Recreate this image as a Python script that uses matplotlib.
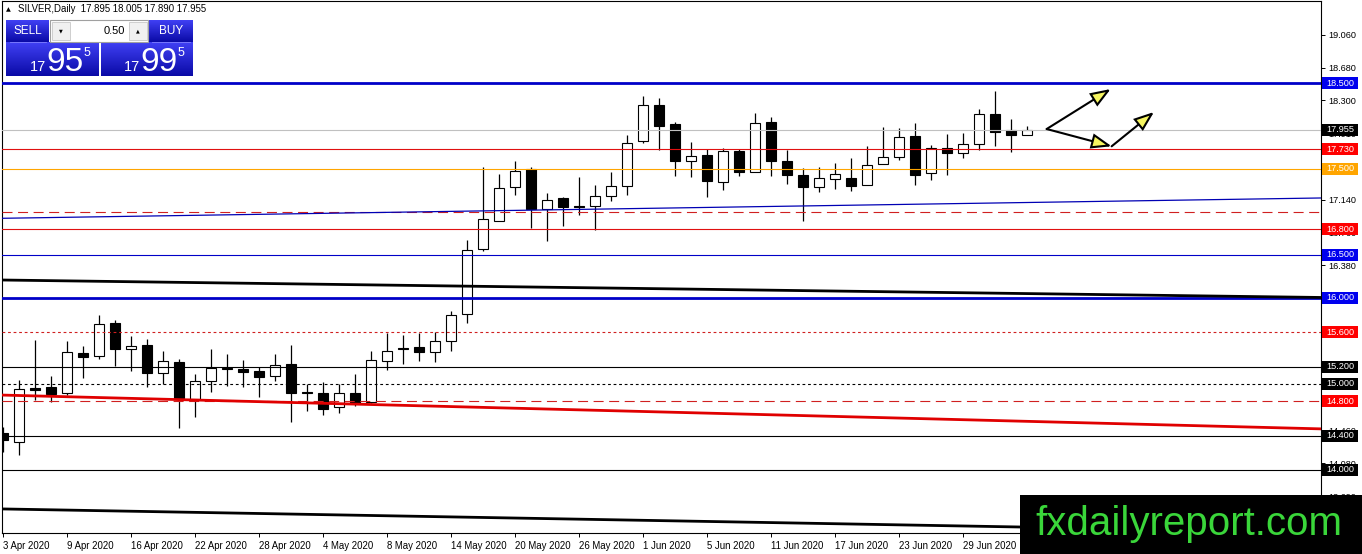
import matplotlib
matplotlib.use('Agg')
import matplotlib.pyplot as plt
import numpy as np
from matplotlib.patches import Rectangle, FancyArrowPatch
from matplotlib.colors import LinearSegmentedColormap
import matplotlib.transforms as mtransforms

plt.rcParams['font.family'] = ['Liberation Sans', 'DejaVu Sans']

# ---------------- data ----------------
symbol = 'SILVER,Daily'
opens = [14.43, 14.33, 14.95, 14.97, 14.90, 15.36, 15.33, 15.71, 15.41, 15.45,
         15.13, 15.26, 14.83, 15.03, 15.19, 15.17, 15.15, 15.09, 15.23, 14.91,
         14.90, 14.73, 14.90, 14.79, 15.27, 15.42, 15.43, 15.37, 15.50, 15.81,
         16.57, 16.90, 17.29, 17.50, 17.03, 17.16, 17.07, 17.07, 17.19, 17.30,
         17.83, 18.24, 18.02, 17.59, 17.66, 17.35, 17.71, 17.47, 18.05, 17.59,
         17.43, 17.29, 17.38, 17.40, 17.31, 17.56, 17.64, 17.88, 17.45, 17.74,
         17.69, 17.79, 18.14, 17.95, 17.895]
highs = [14.50, 15.05, 15.51, 15.09, 15.50, 15.44, 15.80, 15.74, 15.56, 15.52,
         15.38, 15.29, 15.12, 15.41, 15.35, 15.28, 15.20, 15.35, 15.45, 15.00,
         15.02, 15.00, 15.12, 15.38, 15.59, 15.57, 15.59, 15.60, 15.85, 16.67,
         17.52, 17.44, 17.59, 17.52, 17.22, 17.17, 17.41, 17.31, 17.47, 17.90,
         18.35, 18.33, 18.05, 17.81, 17.73, 17.74, 17.73, 18.15, 18.10, 17.72,
         17.51, 17.52, 17.57, 17.63, 17.77, 17.99, 17.98, 18.03, 17.78, 17.91,
         17.92, 18.20, 18.41, 18.08, 18.005]
lows = [14.21, 14.17, 14.81, 14.79, 14.87, 15.07, 15.29, 15.21, 15.15, 14.97,
        15.00, 14.49, 14.62, 14.91, 14.98, 14.97, 14.85, 15.03, 14.56, 14.69,
        14.64, 14.66, 14.74, 14.78, 15.16, 15.23, 15.27, 15.26, 15.38, 15.71,
        16.55, 16.90, 17.20, 16.81, 16.66, 16.84, 16.97, 16.79, 17.13, 17.20,
        17.80, 17.72, 17.42, 17.41, 17.17, 17.26, 17.42, 17.46, 17.42, 17.33,
        16.90, 17.23, 17.27, 17.24, 17.31, 17.56, 17.60, 17.31, 17.37, 17.43,
        17.63, 17.72, 17.77, 17.70, 17.890]
closes = [14.35, 14.94, 14.93, 14.88, 15.37, 15.31, 15.70, 15.41, 15.44, 15.13,
          15.27, 14.84, 15.03, 15.19, 15.18, 15.14, 15.08, 15.22, 14.90, 14.90,
          14.71, 14.90, 14.78, 15.28, 15.38, 15.41, 15.37, 15.50, 15.80, 16.56,
          16.92, 17.28, 17.48, 17.03, 17.14, 17.06, 17.06, 17.19, 17.30, 17.80,
          18.24, 18.00, 17.59, 17.65, 17.36, 17.71, 17.47, 18.03, 17.59, 17.43,
          17.29, 17.40, 17.44, 17.30, 17.55, 17.64, 17.87, 17.43, 17.74, 17.69,
          17.79, 18.14, 17.93, 17.89, 17.955]

date_ticks = [0, 4, 8, 12, 16, 20, 24, 28, 32, 36, 40, 44, 48, 52, 56, 60]
date_labels = ['3 Apr 2020', '9 Apr 2020', '16 Apr 2020', '22 Apr 2020', '28 Apr 2020',
               '4 May 2020', '8 May 2020', '14 May 2020', '20 May 2020', '26 May 2020',
               '1 Jun 2020', '5 Jun 2020', '11 Jun 2020', '17 Jun 2020', '23 Jun 2020',
               '29 Jun 2020']
ytick_values = [19.060, 18.680, 18.300, 17.910, 17.520, 17.140, 16.760, 16.380,
                15.990, 15.610, 15.220, 14.840, 14.460, 14.080, 13.690]

levels = [18.5, 17.955, 17.73, 17.5, 17.0, 16.8, 16.5, 16.0, 15.6, 15.2, 15.0, 14.8, 14.4, 14.0]
level_colors = ['#0000c8', '#c0c0c0', '#e01010', '#ffa500', '#d02020', '#e01010', '#0000c8',
                '#0000c8', '#d02020', '#000000', '#000000', '#d02020', '#000000', '#000000']
level_styles = ['-', '-', '-', '-', (0, (9, 5)), '-', '-',
                '-', (0, (2.5, 2.5)), '-', (0, (2.5, 2.5)), (0, (9, 5)), '-', '-']
level_widths = [2.0, 0.8, 0.8, 0.8, 0.8, 0.8, 0.8, 2.0, 0.8, 0.8, 0.8, 0.8, 0.8, 0.8]
level_label_bg = ['#0000ee', '#000000', '#ff0000', '#ffa500', None, '#ff0000', '#0000ee',
                  '#0000ee', '#ff0000', '#000000', '#000000', '#ff0000', '#000000', '#000000']

trend_red = [(0, 14.871), (82, 14.480)]
trend_black_upper = [(0, 16.209), (82, 16.007)]
trend_black_lower = [(0, 13.547), (61.8, 13.343)]
trend_blue = [(0, 16.927), (82, 17.162)]

arrow_start = (65.23, 17.965)
arrow_tip_1 = (69.23, 18.430)
arrow_tip_2 = (69.29, 17.764)
arrow_tip_3 = (71.94, 18.163)

bid, ask, lot = 17.955, 17.995, 0.50
watermark = 'fxdailyreport.com'

# ---------------- figure ----------------
W, H = 1362, 554
fig = plt.figure(figsize=(W / 100, H / 100), dpi=100)
fig.patch.set_facecolor('white')
ax = fig.add_axes([2 / W, (H - 533) / H, 1319 / W, 532 / H])
ax.set_xlim(-0.0625, 82.375)
ax.set_ylim(13.2674, 19.4535)

x = np.arange(len(opens))
o = np.array(opens); c = np.array(closes)
bottoms = np.minimum(o, c)
heights = np.abs(c - o)
body_colors = ['white' if cc > oo else 'black' for oo, cc in zip(o, c)]

ax.vlines(x, lows, highs, color='black', lw=0.9, zorder=3)
ax.bar(x, heights, bottom=bottoms, width=0.64, color=body_colors,
       edgecolor='black', linewidth=0.8, zorder=3.2)

# horizontal levels
for p, col, ls, lw in zip(levels, level_colors, level_styles, level_widths):
    ax.axhline(p, color=col, linestyle=ls, linewidth=lw, zorder=4)

# trend lines
ax.axline(trend_blue[0], trend_blue[1], color='#0000b4', lw=0.9, zorder=4)
ax.axline(trend_black_upper[0], trend_black_upper[1], color='black', lw=2.0, zorder=4)
ax.axline(trend_black_lower[0], trend_black_lower[1], color='black', lw=2.0, zorder=4)
ax.axline(trend_red[0], trend_red[1], color='#e00000', lw=2.0, zorder=4)

# arrows
astyle = '-|>,head_length=12,head_width=4.5'
for a, b in [(arrow_start, arrow_tip_1), (arrow_start, arrow_tip_2), (arrow_tip_2, arrow_tip_3)]:
    ax.add_patch(FancyArrowPatch(a, b, arrowstyle=astyle, mutation_scale=1,
                                 fc='#f6f560', ec='black', lw=1.5, zorder=6,
                                 shrinkA=0, shrinkB=0, joinstyle='miter'))

# axes styling
for s in ax.spines.values():
    s.set_linewidth(0.8)
    s.set_color('black')
ax.yaxis.tick_right()
ax.set_yticks(ytick_values)
ax.set_yticklabels([f'{v:.3f}' for v in ytick_values])
ax.tick_params(axis='y', direction='out', length=3, width=0.7, pad=2, labelsize=6.6)
ax.set_xticks(date_ticks)
ax.set_xticklabels(date_labels, ha='left')
ax.tick_params(axis='x', direction='out', length=3, width=0.7, pad=2.5, labelsize=6.9)

# level price labels on the right
blend = mtransforms.blended_transform_factory(ax.transAxes, ax.transData)
box_h = 12 / 86.0
for p, bg in zip(levels, level_label_bg):
    if bg is None:
        continue
    ax.add_patch(Rectangle((1320 / 1319, p - box_h / 2), 36 / 1319, box_h, transform=blend,
                           facecolor=bg, edgecolor='none', clip_on=False, zorder=7))
    ax.text(1338 / 1319, p, f'{p:.3f}', transform=blend, ha='center', va='center',
            color='white', fontsize=6.6, clip_on=False, zorder=8)

# ---------------- overlay (pixel coordinates) ----------------
ov = fig.add_axes([0, 0, 1, 1], zorder=10)
ov.set_xlim(0, W); ov.set_ylim(H, 0)
ov.axis('off')

title = f'{symbol}  {opens[-1]:.3f} {highs[-1]:.3f} {lows[-1]:.3f} {closes[-1]:.3f}'
ov.text(6, 9.5, '▲', fontsize=4.5, family='DejaVu Sans', va='center', ha='left')
ov.text(18, 9.5, title, fontsize=6.9, va='center', ha='left')

blue_cmap = LinearSegmentedColormap.from_list('b', ['#4040f4', '#0a0aa6'])
grad = np.linspace(0, 1, 64).reshape(-1, 1)

def blue_box(x0, y0, x1, y1):
    ov.imshow(grad, extent=[x0, x1, y1, y0], aspect='auto', cmap=blue_cmap, zorder=1)

blue_box(6, 20, 49, 42)
blue_box(149, 20, 193, 42)
blue_box(6, 42, 99, 76)
blue_box(101, 42, 193, 76)
ov.plot([10, 46], [42, 42], color='#8080ff', lw=0.6, zorder=2)
ov.plot([152, 190], [42, 42], color='#8080ff', lw=0.6, zorder=2)
ov.add_patch(Rectangle((50, 20), 98, 22, facecolor='white', edgecolor='#a0a0a0', lw=0.8, zorder=1))
ov.add_patch(Rectangle((52, 22), 18, 18, facecolor='#f0f0f0', edgecolor='#c8c8c8', lw=0.6, zorder=2))
ov.add_patch(Rectangle((129, 22), 18, 18, facecolor='#f0f0f0', edgecolor='#c8c8c8', lw=0.6, zorder=2))
ov.text(61, 31, '▼', fontsize=3.5, family='DejaVu Sans', ha='center', va='center', zorder=3)
ov.text(138, 31, '▲', fontsize=3.5, family='DejaVu Sans', ha='center', va='center', zorder=3)
ov.text(125, 31, f'{lot:.2f}', fontsize=8, ha='right', va='center', zorder=3)
ov.text(27.5, 31.5, 'SELL', fontsize=8.5, color='white', ha='center', va='center', zorder=3)
ov.text(171, 31.5, 'BUY', fontsize=8.5, color='white', ha='center', va='center', zorder=3)

for price, xs in [(bid, (30, 46, 84)), (ask, (124, 140, 178))]:
    s = f'{price:.3f}'
    big, frac, last = s[:2], s[3:5], s[5]
    ov.text(xs[0], 71, big, fontsize=10.5, color='white', ha='left', va='baseline', zorder=3)
    ov.text(xs[1], 71, frac, fontsize=24, color='white', ha='left', va='baseline', zorder=3)
    ov.text(xs[2], 56, last, fontsize=9, color='white', ha='left', va='baseline', zorder=3)

# watermark
ov.add_patch(Rectangle((1020, 495), 342, 60, facecolor='black', edgecolor='none', zorder=5))
ov.text(1189, 535, watermark, fontsize=29, color='#3ad63a', ha='center', va='baseline', zorder=6)

fig.savefig('out.png', dpi=100, facecolor='white')
